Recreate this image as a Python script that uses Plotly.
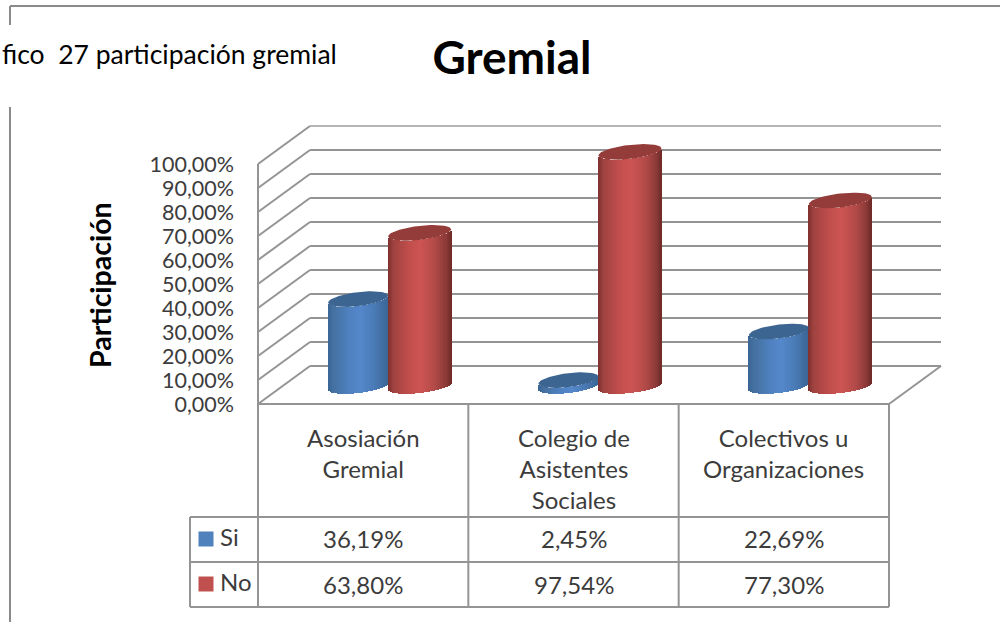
import math
import plotly.graph_objects as go

# ---- data -------------------------------------------------------------
categories = ["Asosiación<br>Gremial", "Colegio de<br>Asistentes<br>Sociales", "Colectivos u<br>Organizaciones"]
si_values = [36.19, 2.45, 22.69]
no_values = [63.80, 97.54, 77.30]
si_labels = ["36,19%", "2,45%", "22,69%"]
no_labels = ["63,80%", "97,54%", "77,30%"]
y_ticks = [0, 10, 20, 30, 40, 50, 60, 70, 80, 90, 100]
y_tick_labels = ["0,00%", "10,00%", "20,00%", "30,00%", "40,00%", "50,00%",
                 "60,00%", "70,00%", "80,00%", "90,00%", "100,00%"]

# ---- page geometry: the axes span the whole page -----------------------
W, H = 1000, 622
FRONT_L, FRONT_R, FRONT_B = 258.0, 889.0, 404.0
UNIT_X = (FRONT_R - FRONT_L) / 3
UNIT_Y = 2.4


def xv(px):
    return (px - FRONT_L) / UNIT_X - 0.5


def yv(py):
    return (FRONT_B - py) / UNIT_Y


DX = 52 / UNIT_X
DY = 38 / UNIT_Y
GRID = "#949494"
TEXT = "#3c3c3c"
FONT = "Lato"

# ---- cylinders ---------------------------------------------------------
N = 62
GROUP_OFF = 25 / UNIT_X
BASE = yv(386)
TILT = 3.5 / UNIT_Y
MINOR = 7.0 / UNIT_Y


def hexrgb(c):
    return tuple(int(c[i:i + 2], 16) for i in (1, 3, 5))


def ramp(stops, u):
    for (u0, c0), (u1, c1) in zip(stops, stops[1:]):
        if u <= u1:
            f = (u - u0) / (u1 - u0)
            a, b = hexrgb(c0), hexrgb(c1)
            return "rgb(%d,%d,%d)" % tuple(round(a[i] + (b[i] - a[i]) * f) for i in range(3))
    return stops[-1][1]


RED_STOPS = [(-1, "#7d302e"), (-0.82, "#a04240"), (-0.3, "#c24f4d"), (0.05, "#cd5553"),
             (0.5, "#b24a48"), (0.85, "#8c3a38"), (1, "#6f2b29")]
BLUE_STOPS = [(-1, "#3a6595"), (-0.8, "#44719f"), (-0.3, "#4f80bf"), (0.1, "#5488cc"),
              (0.55, "#4b7bb6"), (1, "#3a6595")]


def cylinder(name, values, shift, half_width, stops, cap):
    xs, bases, heights, colors = [], [], [], []
    step = 2 * half_width / N
    for i, v in enumerate(values):
        cx = i + GROUP_OFF + shift
        for k in range(N):
            u = -1 + (k + 0.5) * 2 / N
            xs.append(cx + u * half_width)
            bases.append(BASE + TILT * u - MINOR * math.sqrt(1 - u * u))
            heights.append(v)
            colors.append(ramp(stops, u))
    traces = [go.Bar(x=xs, y=heights, base=bases, width=step * 1.15, name=name,
                     marker=dict(color=colors, line=dict(width=0)), showlegend=False,
                     hoverinfo="skip")]
    for i, v in enumerate(values):
        cx = i + GROUP_OFF + shift
        ts = [2 * math.pi * j / 72 for j in range(73)]
        traces.append(go.Scatter(
            x=[cx + half_width * math.cos(t) for t in ts],
            y=[BASE + v + TILT * math.cos(t) + MINOR * math.sin(t) for t in ts],
            mode="lines", fill="toself", fillcolor=cap, line=dict(width=0, color=cap),
            showlegend=False, hoverinfo="skip"))
    return traces


fig = go.Figure()
for t in cylinder("Si", si_values, -30 / UNIT_X, 30 / UNIT_X, BLUE_STOPS, "#3d6591"):
    fig.add_trace(t)
for t in cylinder("No", no_values, 31.5 / UNIT_X, 31.5 / UNIT_X, RED_STOPS, "#943c3a"):
    fig.add_trace(t)

# ---- walls, floor and table -------------------------------------------
shapes = []


def seg(x0, y0, x1, y1, color=GRID, width=2):
    shapes.append(dict(type="line", xref="x", yref="y", x0=x0, y0=y0, x1=x1, y1=y1,
                       layer="below", line=dict(color=color, width=width)))


for v in y_ticks:
    seg(-0.5, v, -0.5 + DX, v + DY)
    seg(-0.5 + DX, v + DY, 2.5 + DX, v + DY, color="#b5b5b5" if v == 100 else GRID)
seg(2.5, 0, 2.5 + DX, DY)
seg(-0.5, 100, -0.5, yv(607))
seg(-0.5, 0, 2.5, 0)
for i in range(1, 4):
    seg(i - 0.5, 0, i - 0.5, yv(607))
for py in (517, 562, 607):
    seg(xv(190), yv(py), 2.5, yv(py))
seg(xv(190), yv(517), xv(190), yv(607))

# page frame
seg(xv(10), yv(6), xv(1000), yv(6), color="#8a8a8a")
seg(xv(10), yv(6), xv(10), yv(25), color="#8a8a8a")
seg(xv(10), yv(107), xv(10), yv(622), color="#8a8a8a")

# ---- text ---------------------------------------------------------------
ann = []


def note(x, y, text, size=24, color=TEXT, **kw):
    ann.append(dict(x=x, y=y, xref="x", yref="y", text=text, showarrow=False,
                    font=dict(family=FONT, size=size, color=color), **kw))


for i, c in enumerate(categories):
    note(i, yv(421), c, xanchor="center", yanchor="top", align="center")
    note(i, yv(538.5), si_labels[i], xanchor="center", yanchor="middle")
    note(i, yv(584), no_labels[i], xanchor="center", yanchor="middle")
note(xv(339), yv(54), "fico\u00a0 27 participación gremial", size=26.5, color="#000000",
     xanchor="right", yanchor="middle")
note(xv(100), yv(285), "<b>Participación</b>", size=28.5, color="#000000",
     textangle=-90, xanchor="center", yanchor="middle")
note(xv(218), yv(536), "Si", xanchor="left", yanchor="middle")
note(xv(218), yv(581), "No", xanchor="left", yanchor="middle")

# legend keys of the data table
fig.add_trace(go.Scatter(x=[xv(206)], y=[yv(539)], mode="markers", name="Si",
                         marker=dict(symbol="square", size=15, color="#4f81bd"),
                         showlegend=False, hoverinfo="skip"))
fig.add_trace(go.Scatter(x=[xv(206)], y=[yv(584)], mode="markers", name="No",
                         marker=dict(symbol="square", size=15, color="#c0504d"),
                         showlegend=False, hoverinfo="skip"))

fig.update_layout(
    width=W, height=H, margin=dict(l=0, r=0, t=0, b=0),
    paper_bgcolor="white", plot_bgcolor="white", barmode="overlay", bargap=0,
    showlegend=False, shapes=shapes, annotations=ann,
    title=dict(text="<b>Gremial</b>", x=512 / W, y=1 - 58 / H, xanchor="center", yanchor="middle",
               font=dict(family=FONT, size=46, color="#000000")),
    xaxis=dict(range=[xv(0), xv(W)], visible=False, fixedrange=True),
    yaxis=dict(range=[yv(H), yv(0)], tickmode="array", tickvals=y_ticks, ticktext=y_tick_labels,
               anchor="free", position=234 / W, showgrid=False, zeroline=False, showline=False,
               ticks="", tickfont=dict(family=FONT, size=21.5, color=TEXT), fixedrange=True),
)

fig.write_html("out.html", config={"displayModeBar": False},
               post_script="document.body.style.margin='0';")
